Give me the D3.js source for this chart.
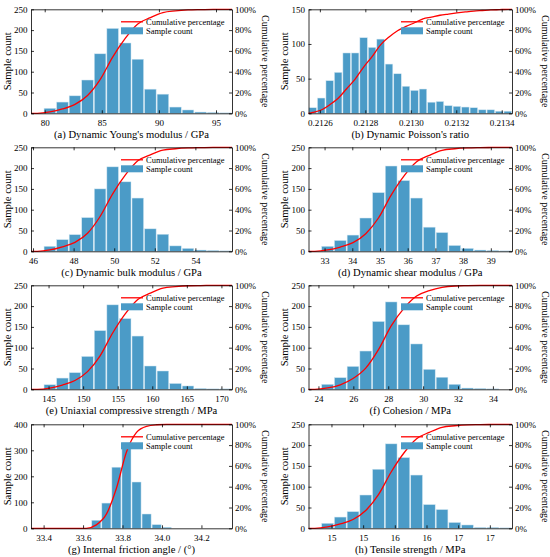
<!DOCTYPE html>
<html><head><meta charset="utf-8">
<script src="https://cdn.jsdelivr.net/npm/d3@7"></script>
<style>
body{margin:0;background:#fff}
svg{display:block}
text{font-family:"Liberation Serif","Times New Roman",serif}
</style>
</head><body>
<svg id="c" width="550" height="557"></svg>
<script>
// ---------- data ----------
const xTitles = [
  "(a) Dynamic Young's modulus / GPa",
  "(b) Dynamic Poisson's ratio",
  "(c) Dynamic bulk modulus / GPa",
  "(d) Dynamic shear modulus / GPa",
  "(e) Uniaxial compressive strength / MPa",
  "(f) Cohesion / MPa",
  "(g) Internal friction angle / (°)",
  "(h) Tensile strength / MPa"
];
// histogram bin start (left edge of first bin) and bin width
const binStarts = [78.8, 0.21255, 45.9, 32.42, 142.46, 23.43, 33.336, 14.71];
const binWidths = [1.1, 0.0000373, 0.619, 0.459, 1.817, 0.729, 0.05095, 0.1606];
// sample counts per bin
const countsA = [0,12,27,42,80,143,204,169,130,58,46,15,8,3,2,1];
const countsB = [8,22,47,59,87,87,109,95,107,71,57,39,33,35,16,17,11,10,9,8,5,5,3,3];
const countsC = [0,12,28,40,81,150,203,167,128,54,41,13,7,3,2,1];
const countsD = [0,12,26,39,80,141,205,170,128,58,45,14,7,3,2,1];
const countsE = [0,11,27,40,79,141,203,170,128,56,44,14,8,2,1,1];
const countsF = [0,12,28,55,92,163,210,155,109,48,29,12,3,2,1,0];
const countsG = [0,0,0,0,0,0,31,97,235,329,178,55,14,4,0,0,0,0,0,0];
const countsH = [0,12,27,40,80,142,203,170,128,57,45,14,8,2,2,1];
// x tick values
const xTicksA = [80,85,90,95];
const xTicksB = [0.2126,0.2128,0.2130,0.2132,0.2134];
const xTicksC = [46,48,50,52,54];
const xTicksD = [33,34,35,36,37,38,39];
const xTicksE = [145,150,155,160,165,170];
const xTicksF = [24,26,28,30,32,34];
const xTicksG = [33.4,33.6,33.8,34.0,34.2];
const xTicksH = [15.0,15.4,15.8,16.2,16.6,17.0];
const xFormats = [".0f",".4f",".0f",".0f",".0f",".0f",".1f",".0f"];
// y (count) axis ticks
const yTicks250 = [0,50,100,150,200,250];
const yTicks150 = [0,50,100,150];
const yTicks400 = [0,100,200,300,400];
const pctTicks = [0,20,40,60,80,100];

const allCounts = [countsA,countsB,countsC,countsD,countsE,countsF,countsG,countsH];
const allXTicks = [xTicksA,xTicksB,xTicksC,xTicksD,xTicksE,xTicksF,xTicksG,xTicksH];
const allYTicks = [yTicks250,yTicks150,yTicks250,yTicks250,yTicks250,yTicks250,yTicks400,yTicks250];

// ---------- layout / style ----------
const colX = [[31,232],[308.5,512]];
const rowY = [9.3,147.3,285.3,424.3];
const plotH = 104;
const barColor = "#4b9bc7";
const lineColor = "#ff0000";
const FONT = '"Liberation Serif","Times New Roman",serif';

const svg = d3.select("#c");

allCounts.forEach((counts,i)=>{
  const [x0,x1] = colX[i%2];
  const y0 = rowY[Math.floor(i/2)], y1 = y0 + plotH;
  const start = binStarts[i], w = binWidths[i], n = counts.length;
  const yt = allYTicks[i];
  const x = d3.scaleLinear().domain([start, start + n*w]).range([x0,x1]);
  const y = d3.scaleLinear().domain([0, yt[yt.length-1]]).range([y1,y0]);
  const yp = d3.scaleLinear().domain([0,100]).range([y1,y0]);
  const g = svg.append("g");

  // bars
  g.append("g").selectAll("rect").data(counts).join("rect")
    .attr("x",(d,j)=>x(start + j*w) + 0.5)
    .attr("width",(d,j)=>Math.max(0, x(start+(j+1)*w) - x(start+j*w) - 1))
    .attr("y",d=>y(d))
    .attr("height",d=>y(0)-y(d))
    .attr("fill",barColor)
    .attr("stroke","#cfe5f1")
    .attr("stroke-width",0.5);

  // cumulative percentage
  const total = d3.sum(counts);
  const cum = d3.cumsum(counts);
  const pts = [[start,0]]
    .concat(counts.map((c,j)=>[start+(j+0.5)*w, cum[j]/total*100]))
    .concat([[start+n*w,100]]);
  g.append("path").datum(pts)
    .attr("fill","none").attr("stroke",lineColor).attr("stroke-width",1.3)
    .attr("d", d3.line().x(d=>x(d[0])).y(d=>yp(d[1])).curve(d3.curveMonotoneX));

  // axes
  const styleAxis = sel => {
    sel.attr("font-family",FONT).attr("font-size",9);
    sel.selectAll("path,line").attr("stroke","#000").attr("stroke-width",0.8);
    sel.selectAll("text").attr("fill","#000");
  };
  g.append("g").attr("transform",`translate(0,${y1})`)
    .call(d3.axisBottom(x).tickValues(allXTicks[i]).tickFormat(d3.format(xFormats[i]))
      .tickSizeInner(-3).tickSizeOuter(0).tickPadding(6)).call(styleAxis);
  g.append("g").attr("transform",`translate(0,${y0})`)
    .call(d3.axisTop(x).tickValues(allXTicks[i]).tickFormat("")
      .tickSizeInner(-3).tickSizeOuter(0)).call(styleAxis);
  g.append("g").attr("transform",`translate(${x0},0)`)
    .call(d3.axisLeft(y).tickValues(yt).tickFormat(d3.format("d"))
      .tickSizeInner(-3).tickSizeOuter(0).tickPadding(3.5)).call(styleAxis);
  g.append("g").attr("transform",`translate(${x1},0)`)
    .call(d3.axisRight(yp).tickValues(pctTicks).tickFormat(d=>d+"%")
      .tickSizeInner(-3).tickSizeOuter(0).tickPadding(3)).call(styleAxis);

  // titles
  g.append("text").attr("x",(x0+x1)/2).attr("y",y1+24.5)
    .attr("text-anchor","middle").attr("font-size",10.6).text(xTitles[i]);
  g.append("text").attr("transform",`translate(${x0-24},${(y0+y1)/2}) rotate(-90)`)
    .attr("dy","0.35em").attr("text-anchor","middle").attr("font-size",10.6).text("Sample count");
  g.append("text").attr("transform",`translate(${x1+33.5},${(y0+y1)/2}) rotate(90)`)
    .attr("dy","0.35em").attr("text-anchor","middle").attr("font-size",10).text("Cumulative percentage");

  // legend
  const lx = x1 - 111;
  g.append("line").attr("x1",lx).attr("x2",lx+22).attr("y1",y0+12.5).attr("y2",y0+12.5)
    .attr("stroke",lineColor).attr("stroke-width",1.3);
  g.append("text").attr("x",lx+25).attr("y",y0+15.6).attr("font-size",8.5).text("Cumulative percentage");
  g.append("rect").attr("x",lx).attr("y",y0+18).attr("width",22).attr("height",7).attr("fill",barColor);
  g.append("text").attr("x",lx+25).attr("y",y0+25).attr("font-size",8.5).text("Sample count");
});
</script>
</body></html>
